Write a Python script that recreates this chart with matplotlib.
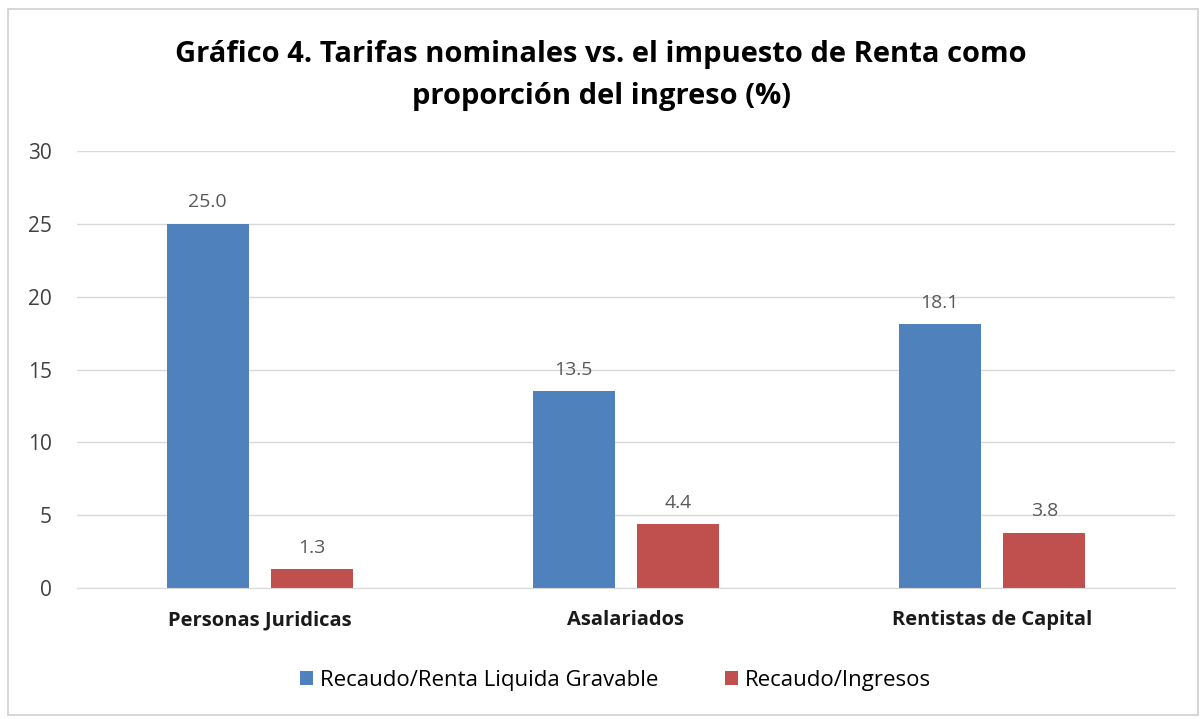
import numpy as np
import matplotlib
matplotlib.use("Agg")
import matplotlib.pyplot as plt
from matplotlib.patches import Rectangle

categories = ["Personas Juridicas", "Asalariados", "Rentistas de Capital"]
renta_liquida = [25.0, 13.5, 18.1]
ingresos = [1.3, 4.4, 3.8]
series_names = ["Recaudo/Renta Liquida Gravable", "Recaudo/Ingresos"]

plt.rcParams["font.family"] = ["Open Sans", "DejaVu Sans"]

fig = plt.figure(figsize=(12.02, 7.19), dpi=100)
fig.patches.append(Rectangle((0.007, 0.005), 0.99, 0.983, transform=fig.transFigure,
                             fill=False, edgecolor="#d0d0d0", linewidth=1.2))
ax = fig.add_axes([0.064, 0.182, 0.9135, 0.608])

x = np.arange(len(categories))
w = 0.224
off = 0.143
b1 = ax.bar(x - off, renta_liquida, w, color="#4f81bd", label=series_names[0])
b2 = ax.bar(x + off, ingresos, w, color="#c0504d", label=series_names[1])

for bars in (b1, b2):
    for r in bars:
        ax.annotate(f"{r.get_height():.1f}", (r.get_x() + r.get_width() / 2, r.get_height()),
                    xytext=(0, 9), textcoords="offset points", ha="center", va="bottom",
                    fontsize=14, color="#595959")

ax.set_xlim(-0.5, 2.5)
ax.set_ylim(0, 30)
ax.set_yticks(range(0, 31, 5))
ax.yaxis.grid(True, color="#d9d9d9", linewidth=1)
ax.set_axisbelow(True)
for s in ("top", "right", "left"):
    ax.spines[s].set_visible(False)
ax.spines["bottom"].set_color("#d9d9d9")
ax.tick_params(axis="both", length=0, labelsize=15, colors="#404040")
ax.tick_params(axis="y", pad=18)
ax.set_xticks(x)
ax.set_xticklabels(categories, fontweight="bold", color="#1a1a1a", fontsize=14.5)
ax.tick_params(axis="x", pad=16)

fig.text(0.5, 0.895, "Gráfico 4. Tarifas nominales vs. el impuesto de Renta como\nproporción del ingreso (%)",
         ha="center", va="center", fontsize=21, fontweight="bold", linespacing=1.6)

fig.legend(handles=[b1, b2], labels=series_names, loc="center", bbox_to_anchor=(0.512, 0.054),
           ncol=2, frameon=False, fontsize=16, handlelength=0.6, handleheight=0.6,
           handletextpad=0.3, columnspacing=3)

plt.savefig("out.png", dpi=100)
